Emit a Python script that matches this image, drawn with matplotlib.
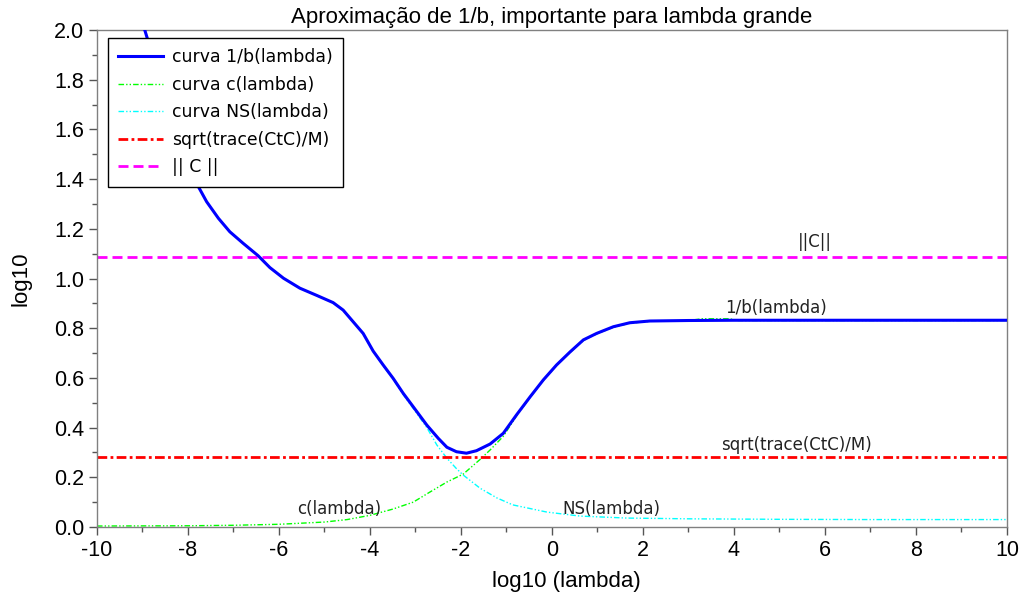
import matplotlib
matplotlib.use("Agg")
import matplotlib.pyplot as plt
from matplotlib.ticker import MultipleLocator, FormatStrFormatter

# values (x = log10(lambda))
x_b = [-10, -9.5, -8.95, -8.5, -8.2, -8.0, -7.77, -7.59, -7.33, -7.08, -6.79, -6.46,
       -6.2, -5.9, -5.54, -5.17, -4.81, -4.59, -4.37, -4.15, -3.93, -3.71, -3.49,
       -3.27, -3.05, -2.75, -2.5, -2.31, -2.1, -1.88, -1.66,
       -1.36, -1.07, -0.78, -0.48, -0.19, 0.1, 0.4, 0.69, 0.98, 1.35, 1.71, 2.15,
       3.0, 4.0, 6.0, 8.0, 10.0]
inv_b = [2.45, 2.24, 2.0, 1.73, 1.57, 1.47, 1.369, 1.309, 1.242, 1.188, 1.142, 1.092,
         1.044, 1.001, 0.961, 0.932, 0.903, 0.873, 0.826, 0.779, 0.708, 0.652, 0.598,
         0.538, 0.484, 0.41, 0.357, 0.321, 0.303, 0.297, 0.307,
         0.334, 0.377, 0.451, 0.524, 0.592, 0.652, 0.705, 0.753, 0.779, 0.806, 0.822, 0.829,
         0.831, 0.832, 0.832, 0.832, 0.832]

x_c = [-10, -8, -7, -6, -5, -4.5, -4.0, -3.5, -3.05, -2.68, -2.31, -1.95, -1.58,
       -1.36, -1.07, -0.78, -0.48, -0.19, 0.1, 0.4, 0.69, 0.98, 1.35, 1.71, 2.15,
       3.0, 3.3, 3.9, 4.1, 6.0, 8.0, 10.0]
c_vals = [0.004, 0.005, 0.007, 0.011, 0.02, 0.03, 0.047, 0.072, 0.1, 0.141, 0.181, 0.213, 0.272,
          0.31, 0.365, 0.447, 0.522, 0.59, 0.65, 0.703, 0.751, 0.777, 0.804, 0.82, 0.828,
          0.831, 0.838, 0.838, 0.831, 0.831, 0.831, 0.831]

x_ns = [-10, -9.5, -8.95, -8.5, -8.2, -8.0, -7.77, -7.59, -7.33, -7.08, -6.79, -6.46,
        -6.2, -5.9, -5.54, -5.17, -4.81, -4.59, -4.37, -4.15, -3.93, -3.71, -3.49,
        -3.27, -3.05, -2.75, -2.53, -2.31, -2.1, -1.95, -1.58, -1.21, -0.86, -0.11,
        0.62, 1.65, 3.0, 5.0, 7.0, 10.0]
ns_vals = [2.45, 2.24, 2.0, 1.73, 1.57, 1.47, 1.369, 1.309, 1.242, 1.188, 1.142, 1.092,
           1.044, 1.001, 0.961, 0.931, 0.902, 0.872, 0.825, 0.777, 0.706, 0.649, 0.594,
           0.533, 0.477, 0.4, 0.33, 0.277, 0.235, 0.209, 0.156, 0.117, 0.089, 0.06,
           0.044, 0.036, 0.033, 0.031, 0.03, 0.03]

sqrt_trace = 0.28
norm_c = 1.087

fig = plt.figure(figsize=(10.22, 6.05), dpi=100)
ax = fig.add_axes([0.0949, 0.1289, 0.8904, 0.8215])

ax.plot(x_ns, ns_vals, color='#00ffff', linewidth=1.0, dashes=(4, 1.5, 1, 1.5, 1, 1.5),
        label='curva NS(lambda)', zorder=2)
ax.plot(x_c, c_vals, color='#00ff00', linewidth=1.0, dashes=(4, 1.5, 1, 1.5, 1, 1.5),
        label='curva c(lambda)', zorder=2)
ax.plot(x_b, inv_b, color='#0000ff', linewidth=2.2, label='curva 1/b(lambda)', zorder=3)
ax.axhline(sqrt_trace, color='#ff0000', linewidth=2.0, dashes=(3.5, 1.2, 1, 1.2),
           label='sqrt(trace(CtC)/M)', zorder=2)
ax.axhline(norm_c, color='#ff00ff', linewidth=2.0, dashes=(3.6, 1.8),
           label='|| C ||', zorder=2)

txt = dict(fontsize=12, color='#222222', va='bottom')
ax.text(5.78, 1.11, '||C||', ha='center', **txt)
ax.text(3.8, 0.845, '1/b(lambda)', ha='left', **txt)
ax.text(3.71, 0.295, 'sqrt(trace(CtC)/M)', ha='left', **txt)
ax.text(-5.6, 0.035, 'c(lambda)', ha='left', **txt)
ax.text(0.22, 0.035, 'NS(lambda)', ha='left', **txt)

ax.set_xlim(-10, 10)
ax.set_ylim(0, 2)
ax.xaxis.set_major_locator(MultipleLocator(2))
ax.xaxis.set_minor_locator(MultipleLocator(1))
ax.yaxis.set_major_locator(MultipleLocator(0.2))
ax.yaxis.set_minor_locator(MultipleLocator(0.1))
ax.yaxis.set_major_formatter(FormatStrFormatter('%.1f'))
ax.xaxis.set_major_formatter(FormatStrFormatter('%d'))

for sp in ax.spines.values():
    sp.set_color('#808080')
    sp.set_linewidth(1.0)
ax.tick_params(which='major', direction='out', length=6, width=1, color='#555555',
               labelsize=15.5, pad=3)
ax.tick_params(which='minor', direction='out', length=3.5, width=1, color='#555555')
for lab in ax.get_xticklabels() + ax.get_yticklabels():
    lab.set_family('Liberation Sans')

ax.set_xlabel('log10 (lambda)', fontsize=16, family='Liberation Sans', va='top')
ax.set_ylabel('log10', fontsize=16, family='Liberation Sans', va='center')
ax.xaxis.set_label_coords(0.516, -0.088)
ax.yaxis.set_label_coords(-0.084, 0.5)
ax.set_title('Aproximação de 1/b, importante para lambda grande', fontsize=16,
             family='Liberation Sans', pad=5)

handles, labels = ax.get_legend_handles_labels()
order = [2, 1, 0, 3, 4]
leg = ax.legend([handles[i] for i in order], [labels[i] for i in order],
                loc='upper left', bbox_to_anchor=(0.012, 0.984), borderaxespad=0,
                fontsize=12.4, fancybox=False, framealpha=1, edgecolor='black',
                handlelength=2.6, handletextpad=0.5, borderpad=0.6, labelspacing=0.55)
leg.get_frame().set_linewidth(1.0)

fig.savefig('out.png', dpi=100)
